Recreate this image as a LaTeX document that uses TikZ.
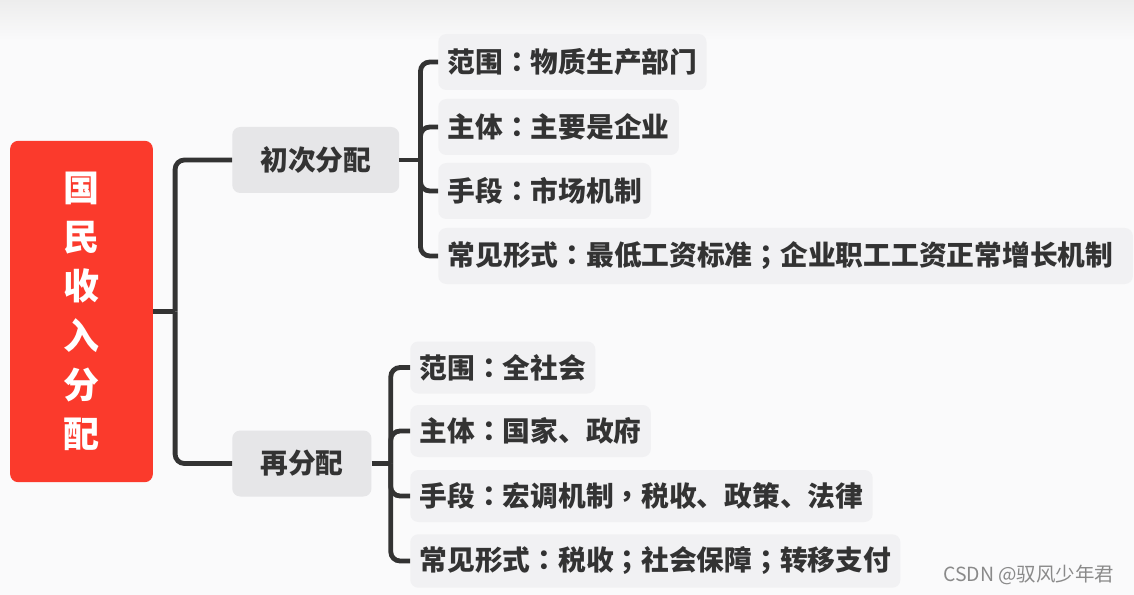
\documentclass[tikz,border=0pt]{standalone}
\usepackage{fontspec}
\newfontfamily\cjk{Noto Sans CJK SC}
\newfontfamily\cjkpunct{Noto Sans CJK TC}
\usetikzlibrary{positioning}

\definecolor{rootred}{HTML}{FB3A2C}
\definecolor{branchgray}{HTML}{E6E6E8}
\definecolor{leafgray}{HTML}{F1F1F3}
\definecolor{ink}{HTML}{333333}
\definecolor{linegray}{HTML}{333333}
\definecolor{paper}{HTML}{FAFAFB}
\definecolor{wmgray}{HTML}{8A8A8A}

% centred full-width punctuation
\newcommand{\cln}{{\cjkpunct ：}}
\newcommand{\smc}{{\cjkpunct ；}}
\newcommand{\cma}{{\cjkpunct ，}}

\begin{document}
\begin{tikzpicture}[
    x=0.75pt, y=-0.75pt,
    font=\cjk,
    root/.style={fill=rootred, rounded corners=6pt, minimum width=107pt, minimum height=256pt, align=center, text=white, font=\cjk\bfseries\fontsize{27}{37}\selectfont},
    branch/.style={fill=branchgray, rounded corners=6pt, minimum height=49.5pt, inner xsep=21pt, anchor=west, text=ink, font=\cjk\bfseries\fontsize{20.8}{24}\selectfont},
    leaf/.style={fill=leafgray, rounded corners=6pt, minimum height=#1, inner xsep=7pt, anchor=west, text=ink, font=\cjk\bfseries\fontsize{20.8}{24}\selectfont},
    leaf/.default=42pt,
    conn/.style={draw=linegray, line width=3.6pt, rounded corners=7pt}
]
% page
\fill[paper] (0,0) rectangle (1134,595);
\shade[top color=black!7, bottom color=paper] (0,0) rectangle (1134,40);
\useasboundingbox (0,0) rectangle (1134,595);

% root and the two kinds of distribution
\node[root] (root) at (81.5,311.5) {国\\民\\收\\入\\分\\配};
\node[branch] (b1) at (232,160) {初次分配};
\node[branch] (b2) at (232,463.5) {再分配};

% first distribution
\node[leaf] (p1) at (438,62) {范围\cln 物质生产部门};
\node[leaf] (p2) at (438,127) {主体\cln 主要是企业};
\node[leaf] (p3) at (438,191) {手段\cln 市场机制};
\node[leaf, text width=507pt, align=left] (p4) at (438,256) {常见形式\cln 最低工资标准\smc 企业职工工资正常增长机制};

% redistribution
\node[leaf=39pt] (r1) at (410,367.5) {范围\cln 全社会};
\node[leaf=39pt] (r2) at (410,431) {主体\cln 国家、政府};
\node[leaf=39pt] (r3) at (410,496) {手段\cln 宏调机制\cma 税收、政策、法律};
\node[leaf=40pt] (r4) at (410,561) {常见形式\cln 税收\smc 社会保障\smc 转移支付};

% connectors
\draw[conn] (root.east) -- ++(22,0) coordinate (rj);
\draw[conn] (rj) |- (b1.west);
\draw[conn] (rj) |- (b2.west);
\draw[conn] (b1.east) -- ++(21,0) coordinate (j1);
\foreach \n in {p1,p2,p3,p4}
    \draw[conn] (j1) |- (\n.west);
\draw[conn] (b2.east) -- ++(19,0) coordinate (j2);
\foreach \n in {r1,r2,r3,r4}
    \draw[conn] (j2) |- (\n.west);

\node[anchor=east, text=wmgray, font=\cjk\fontsize{14.6}{16}\selectfont] (mark) at (1119,575) {CSDN @驭风少年君};
\end{tikzpicture}
\end{document}
